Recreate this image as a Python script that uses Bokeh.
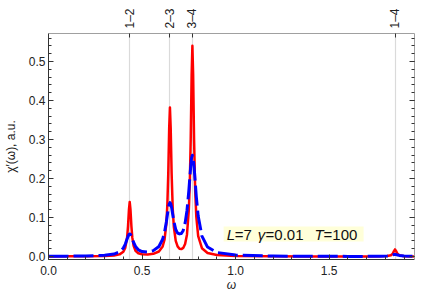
from bokeh.plotting import figure
from bokeh.models import (Range1d, LinearAxis, SingleIntervalTicker, FixedTicker,
                          NumeralTickFormatter, Label, BoxAnnotation, CustomJSTickFormatter)
from bokeh.embed import file_html
from bokeh.resources import INLINE

# transition frequencies (top axis)
transitions = [0.434, 0.649, 0.769, 1.852]
transition_labels = ["1–2", "2–3", "3–4", "1–4"]

omega = [0.0, 0.1, 0.2, 0.3, 0.35, 0.38, 0.40, 0.41, 0.42, 0.425,
         0.43, 0.434, 0.438, 0.443, 0.448, 0.455, 0.465, 0.48, 0.5, 0.53,
         0.56, 0.59, 0.61, 0.62, 0.63, 0.635, 0.64, 0.645, 0.649, 0.653,
         0.658, 0.664, 0.67, 0.68, 0.69, 0.70, 0.71, 0.72, 0.73, 0.74,
         0.75, 0.755, 0.76, 0.765, 0.769, 0.773, 0.778, 0.784, 0.79, 0.80,
         0.82, 0.85, 0.9, 1.0, 1.2, 1.4, 1.6, 1.7, 1.77, 1.81,
         1.83, 1.84, 1.847, 1.852, 1.857, 1.865, 1.875, 1.9, 1.956]

chi_red = [0.0003, 0.0004, 0.0006, 0.0013, 0.0027, 0.0055, 0.0121, 0.0217, 0.0481, 0.078,
           0.121, 0.140, 0.121, 0.078, 0.0483, 0.0273, 0.0148, 0.0082, 0.0056, 0.0051,
           0.0068, 0.0128, 0.0259, 0.043, 0.0852, 0.131, 0.212, 0.330, 0.382, 0.330,
           0.2135, 0.1215, 0.0757, 0.040, 0.026, 0.020, 0.019, 0.022, 0.032, 0.056,
           0.1204, 0.1851, 0.300, 0.4666, 0.5406, 0.4663, 0.2994, 0.1676, 0.1014, 0.0524,
           0.0213, 0.0091, 0.0038, 0.0013, 0.0004, 0.0002, 0.0001, 0.0002, 0.0004, 0.0011,
           0.0032, 0.0075, 0.0145, 0.0181, 0.0145, 0.0068, 0.003, 0.0008, 0.0002]

chi_blue = [0.0006, 0.0009, 0.0015, 0.0032, 0.0063, 0.0118, 0.0217, 0.0312, 0.0447, 0.0515,
            0.0564, 0.0578, 0.0569, 0.052, 0.0452, 0.0359, 0.0257, 0.0171, 0.0126, 0.0116,
            0.015, 0.0256, 0.0442, 0.062, 0.0894, 0.106, 0.1224, 0.1345, 0.1384, 0.1358,
            0.1254, 0.1076, 0.0902, 0.0692, 0.060, 0.058, 0.059, 0.0669, 0.0854, 0.1175,
            0.1687, 0.2004, 0.2313, 0.2537, 0.2597, 0.253, 0.2297, 0.1912, 0.153, 0.1038,
            0.0522, 0.0242, 0.0103, 0.0036, 0.0012, 0.0005, 0.0003, 0.0003, 0.0006, 0.0015,
            0.003, 0.0042, 0.0049, 0.0051, 0.0049, 0.004, 0.0028, 0.0012, 0.0004]

FONT = "Liberation Sans"
DARK = "#333333"
FRAME_LIGHT = "#a0a0a0"

p = figure(frame_width=366, frame_height=226,
           x_range=Range1d(0, 1.956), y_range=Range1d(-0.0077, 0.572),
           output_backend="svg", toolbar_location=None,
           min_border_left=47, min_border_top=33, min_border_right=4, min_border_bottom=4)
p.outline_line_color = None
p.background_fill_color = "white"

# grid: vertical lines at transitions only
p.ygrid.visible = False
p.xgrid.ticker = FixedTicker(ticks=transitions)
p.xgrid.grid_line_color = "#dadada"
p.xgrid.grid_line_width = 1.2

def style_axis(ax, line_color):
    ax.axis_line_color = line_color
    ax.major_tick_line_color = DARK
    ax.minor_tick_line_color = DARK
    ax.major_tick_in = 5
    ax.major_tick_out = 0
    ax.minor_tick_in = 3
    ax.minor_tick_out = 0
    ax.major_label_text_font = FONT
    ax.major_label_text_font_size = "12px"
    ax.major_label_text_color = "#222222"
    ax.axis_label_text_font = FONT
    ax.axis_label_text_font_size = "12px"
    ax.axis_label_text_color = "#222222"
    ax.axis_label_text_font_style = "normal"

# left
yl = p.yaxis[0]
yl.ticker = SingleIntervalTicker(interval=0.1, num_minor_ticks=5)
yl.formatter = NumeralTickFormatter(format="0.0")
style_axis(yl, DARK)
yl.axis_label = "χ′(ω), a.u."
yl.major_label_standoff = 3
yl.axis_label_standoff = 8

# bottom
xb = p.xaxis[0]
xb.ticker = SingleIntervalTicker(interval=0.5, num_minor_ticks=5)
xb.formatter = NumeralTickFormatter(format="0.0")
style_axis(xb, DARK)
xb.axis_label = "ω"
xb.axis_label_text_font_style = "italic"
xb.major_label_standoff = 6
xb.axis_label_standoff = 0

# right (ticks only, no labels)
yr = LinearAxis(ticker=SingleIntervalTicker(interval=0.1, num_minor_ticks=5),
                formatter=CustomJSTickFormatter(code="return ''"))
style_axis(yr, FRAME_LIGHT)
yr.major_label_standoff = 0
p.add_layout(yr, "right")

# top (transition labels)
xt = LinearAxis(ticker=FixedTicker(ticks=transitions, minor_ticks=[]))
style_axis(xt, FRAME_LIGHT)
xt.major_tick_in = 4
xt.major_label_overrides = {t: lab for t, lab in zip(transitions, transition_labels)}
xt.major_label_orientation = "vertical"
xt.major_label_standoff = 5
p.add_layout(xt, "above")

# curves
p.line(omega, chi_red, line_color="#ff0000", line_width=2.5, line_join="round")
p.line(omega, chi_blue, line_color="#0000ff", line_width=3, line_dash="20 5",
       line_join="round")

# annotation with pale-yellow background
p.add_layout(BoxAnnotation(left=0.936, right=1.684, bottom=0.0385, top=0.0769,
                           fill_color="#ffffd9", fill_alpha=1.0, line_color=None,
                           level="overlay"))
pieces = [(0.952, "L", "italic"), (0.995, "=7", "normal"),
          (1.118, "γ", "italic"), (1.160, "=0.01", "normal"),
          (1.422, "T", "italic"), (1.470, "=100", "normal")]
for xp, txt, style in pieces:
    p.add_layout(Label(x=xp, y=0.0577, text=txt, text_font=FONT, text_font_size="15px",
                       text_font_style=style, text_color="#111111",
                       text_baseline="middle", text_align="left", level="overlay"))

open("out.html", "w").write(file_html(p, INLINE))
